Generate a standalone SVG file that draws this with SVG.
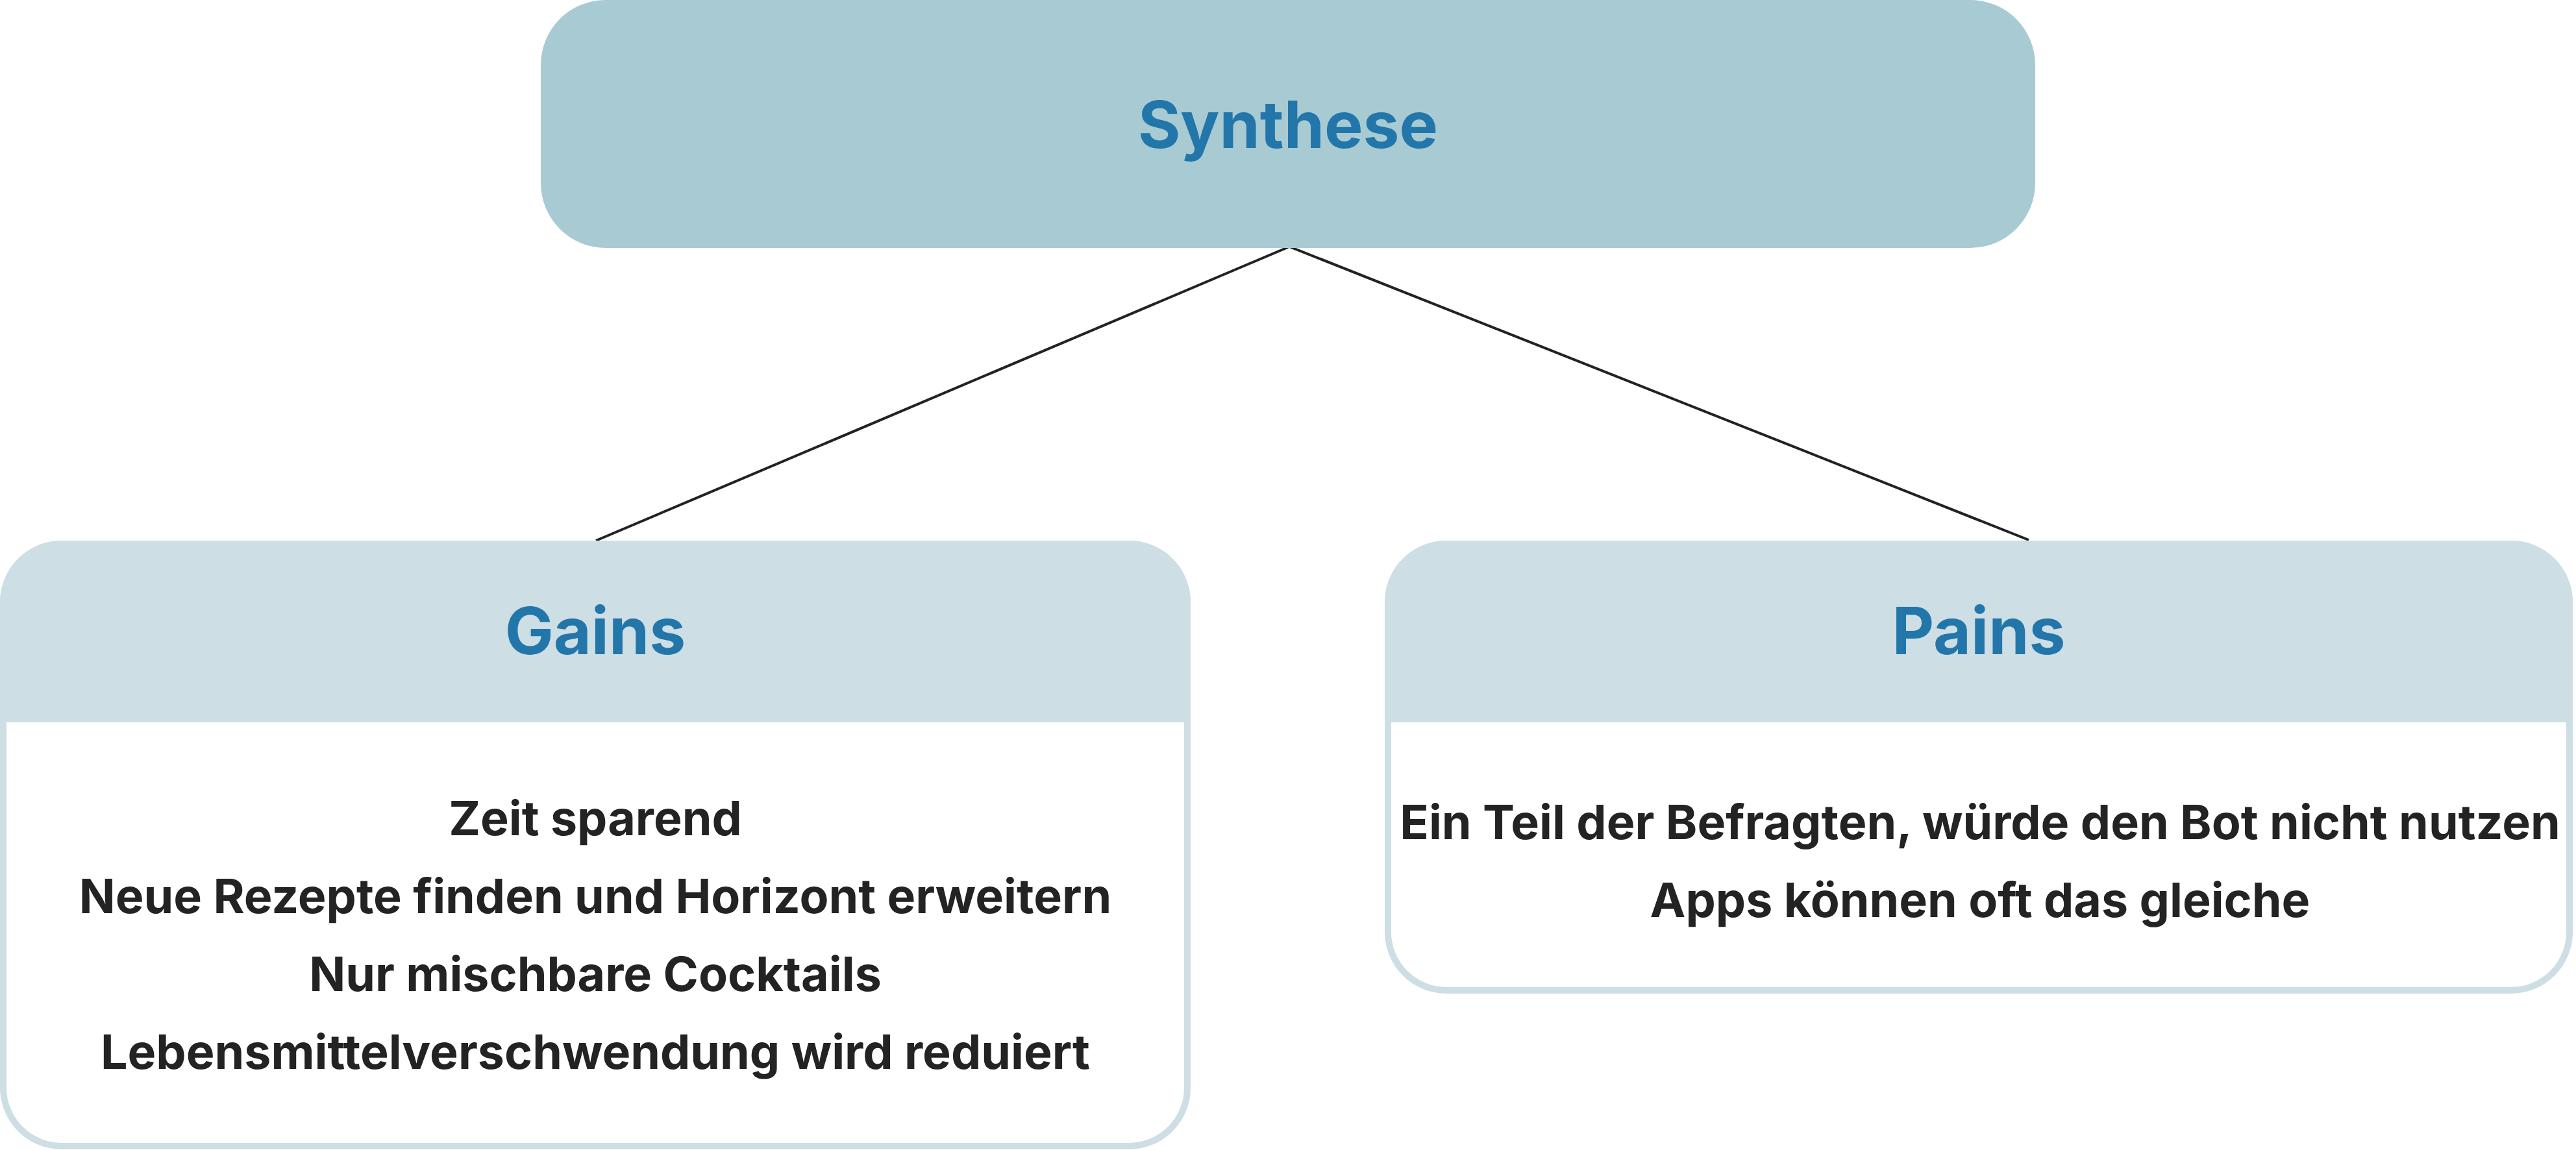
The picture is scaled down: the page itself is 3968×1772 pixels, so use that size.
<svg xmlns="http://www.w3.org/2000/svg" width="3968" height="1772" viewBox="0 0 3968 1772">
  <style>
    .title { font-family: Inter, "Liberation Sans", sans-serif; font-weight: 700; font-size: 100px; fill: #2276a9; text-anchor: middle; }
    .item { font-family: Inter, "Liberation Sans", sans-serif; font-weight: 700; font-size: 73.5px; fill: #232323; text-anchor: middle; }
    .head { fill: #cddee4; }
    .body { fill: #ffffff; stroke: #cddee4; stroke-width: 10; }
    .conn { stroke: #222222; stroke-width: 4; fill: none; }
  </style>
  <rect width="3968" height="1772" fill="#ffffff"/>
  <g id="connectors">
    <line class="conn" x1="1984" y1="381" x2="918" y2="833"/>
    <line class="conn" x1="1986" y1="380" x2="3125" y2="832"/>
  </g>
  <g id="synthese">
    <rect x="833" y="0" width="2302" height="382" rx="100" ry="100" fill="#a8cad3"/>
    <text class="title" x="1984" y="228">Synthese</text>
  </g>
  <g id="gains">
    <rect class="body" x="5" y="838" width="1824" height="928" rx="90" ry="90"/>
    <path class="head" d="M0 1113 L0 928 A95 95 0 0 1 95 833 L1739 833 A95 95 0 0 1 1834 928 L1834 1113 Z"/>
    <text class="title" x="917" y="1008">Gains</text>
    <text class="item" x="917" y="1287">Zeit sparend</text>
    <text class="item" x="917" y="1407">Neue Rezepte finden und Horizont erweitern</text>
    <text class="item" x="917" y="1527">Nur mischbare Cocktails</text>
    <text class="item" x="917" y="1647">Lebensmittelverschwendung wird reduiert</text>
  </g>
  <g id="pains">
    <rect class="body" x="2138" y="838" width="1820" height="688" rx="90" ry="90"/>
    <path class="head" d="M2133 1113 L2133 928 A95 95 0 0 1 2228 833 L3868 833 A95 95 0 0 1 3963 928 L3963 1113 Z"/>
    <text class="title" x="3048" y="1008">Pains</text>
    <text class="item" x="3050" y="1293">Ein Teil der Befragten, würde den Bot nicht nutzen</text>
    <text class="item" x="3050" y="1413">Apps können oft das gleiche</text>
  </g>
</svg>
